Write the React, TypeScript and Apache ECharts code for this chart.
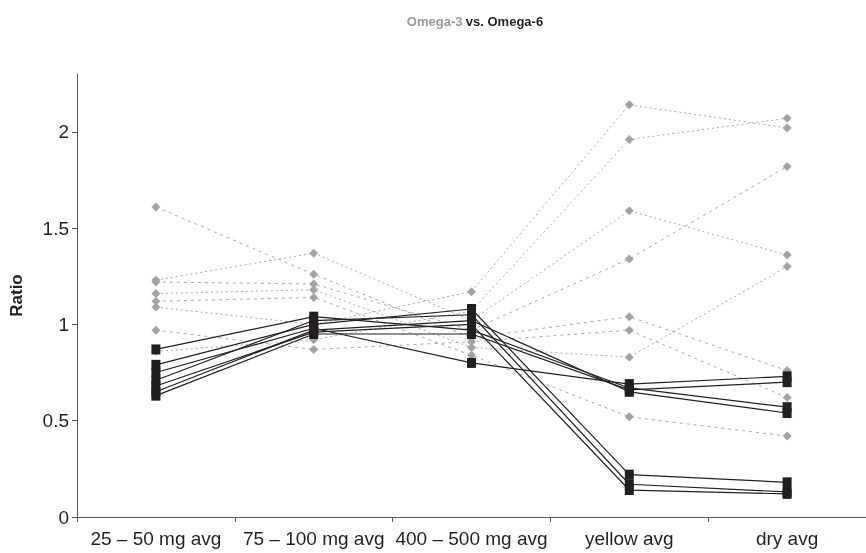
import React, { useEffect, useRef } from "react";
import * as echarts from "echarts";

const categories = ["25 – 50 mg avg", "75 – 100 mg avg", "400 – 500 mg avg", "yellow avg", "dry avg"];

// Grey (Omega-3) series
const grey1 = [1.61, 1.26, 0.93, 1.04, 0.76];
const grey2 = [1.23, 1.37, 1.02, 1.59, 1.36];
const grey3 = [1.22, 1.21, 0.97, 1.34, 1.82];
const grey4 = [1.16, 1.18, 0.88, 0.83, 1.3];
const grey5 = [1.12, 1.14, 0.84, 0.52, 0.42];
const grey6 = [1.09, 1.0, 1.17, 2.14, 2.02];
const grey7 = [0.97, 0.87, 0.91, 0.97, 0.62];
const grey8 = [0.86, 0.92, 1.07, 1.96, 2.07];

// Black (Omega-6) series
const black1 = [0.87, 1.04, 0.97, 0.67, 0.57];
const black2 = [0.79, 1.0, 1.08, 0.22, 0.18];
const black3 = [0.75, 0.98, 0.8, 0.69, 0.73];
const black4 = [0.71, 1.02, 1.05, 0.17, 0.13];
const black5 = [0.68, 0.96, 1.0, 0.14, 0.12];
const black6 = [0.65, 0.97, 1.02, 0.65, 0.54];
const black7 = [0.63, 0.95, 0.95, 0.66, 0.7];

const yTicks = [0, 0.5, 1, 1.5, 2];

const greySeries = [grey1, grey2, grey3, grey4, grey5, grey6, grey7, grey8];
const blackSeries = [black1, black2, black3, black4, black5, black6, black7];

export default function App() {
  const ref = useRef<HTMLDivElement>(null);
  useEffect(() => {
    if (!ref.current) return;
    const chart = echarts.init(ref.current, null, { renderer: "svg" });
    const FONT = "Liberation Sans, Arial, Helvetica, sans-serif";
    const series: any[] = [];
    greySeries.forEach((d, i) => {
      series.push({
        type: "line",
        data: d,
        symbol: "diamond",
        symbolSize: 9,
        z: 2,
        itemStyle: { color: "#a3a3a3" },
        lineStyle: { color: "#a8a8a8", width: 1, type: i % 2 === 0 ? [3, 4] : [2, 3] },
      });
    });
    blackSeries.forEach((d) => {
      series.push({
        type: "line",
        data: d,
        symbol: "rect",
        symbolSize: [9, 10],
        z: 3,
        itemStyle: { color: "#231f20" },
        lineStyle: { color: "#231f20", width: 1.2 },
      });
    });
    chart.setOption({
      animation: false,
      grid: { left: 75, right: 0, top: 74, bottom: 36, containLabel: false },
      graphic: [
        {
          type: "text",
          x: 475,
          y: 21,
          style: {
            text: "{g|Omega-3} {b|vs. Omega-6}",
            align: "center",
            verticalAlign: "middle",
            rich: {
              g: { fontFamily: FONT, fontSize: 13, fontWeight: "bold", fill: "#9a9a9a" },
              b: { fontFamily: FONT, fontSize: 13, fontWeight: "bold", fill: "#231f20" },
            },
          },
        },
      ],
      xAxis: {
        type: "category",
        data: categories,
        boundaryGap: true,
        axisLine: { lineStyle: { color: "#555", width: 1 } },
        axisTick: { show: true, length: 5, lineStyle: { color: "#555" } },
        axisLabel: { interval: 0, fontFamily: FONT, fontSize: 19, color: "#231f20", margin: 12 },
      },
      yAxis: {
        type: "value",
        min: 0,
        max: 2.3,
        interval: 0.5,
        name: "Ratio",
        nameLocation: "middle",
        nameGap: 52,
        nameTextStyle: { fontFamily: FONT, fontSize: 17, fontWeight: "bold", color: "#231f20" },
        axisLine: { show: true, lineStyle: { color: "#555", width: 1 } },
        axisTick: { show: true, length: 5, lineStyle: { color: "#555" }, customValues: yTicks },
        axisLabel: { fontFamily: FONT, fontSize: 19, color: "#231f20", margin: 8, customValues: yTicks },
        splitLine: { show: false },
      },
      series,
    });
    return () => chart.dispose();
  }, []);
  return <div ref={ref} style={{ position: "fixed", left: 0, top: 0, width: 866, height: 553 }} />;
}
